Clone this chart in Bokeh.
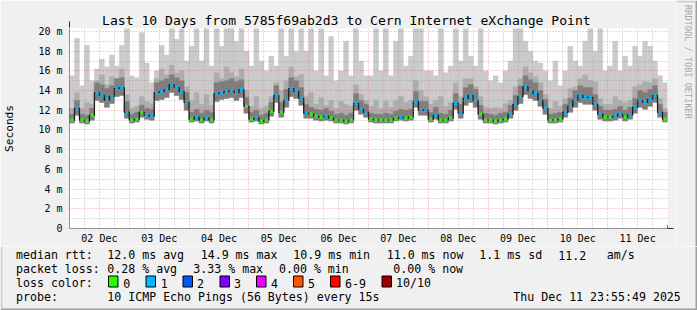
import math
from bokeh.plotting import figure
from bokeh.layouts import column, row
from bokeh.models import (Range1d, FixedTicker, Arrow, NormalHead, Grid, ColumnDataSource)
from bokeh.core.properties import value
from bokeh.embed import file_html
from bokeh.resources import INLINE

# ---------------- data (2-hour steps, 02 Dec 00:00 -> 12 Dec 00:00) ----------------
median = [
    11.0, 12.2, 11.0, 10.9, 11.5, 13.8, 13.5, 13.0, 13.4, 14.2, 14.3, 11.8,
    11.0, 11.1, 11.8, 11.5, 11.4, 13.8, 13.9, 14.1, 14.6, 14.3, 13.9, 12.8,
    11.1, 11.3, 11.0, 11.2, 11.0, 13.7, 13.8, 13.9, 14.0, 13.8, 14.1, 12.4,
    11.1, 11.2, 10.9, 11.0, 11.9, 13.5, 11.8, 13.0, 14.2, 13.9, 13.2, 11.7,
    11.6, 11.4, 11.3, 11.4, 11.2, 11.0, 11.0, 10.9, 11.0, 12.7, 12.1, 11.8,
    11.1, 11.0, 11.0, 11.0, 11.0, 11.2, 11.3, 11.2, 11.3, 12.9, 12.0, 12.0,
    11.1, 11.5, 11.0, 11.0, 11.2, 12.7, 11.7, 13.2, 13.5, 13.0, 11.6, 11.0,
    11.0, 10.9, 11.0, 11.1, 11.6, 12.6, 13.4, 14.4, 14.0, 13.7, 13.0, 12.2,
    11.0, 11.0, 11.1, 11.8, 12.4, 13.0, 13.5, 13.3, 13.3, 12.6, 11.6, 11.3,
    11.3, 11.4, 11.6, 11.3, 11.5, 12.3, 13.0, 12.8, 13.1, 13.5, 11.8, 11.1,
]
loss = [
    0, 1, 0, 0, 0, 1, 1, 1, 1, 1, 1, 1,
    0, 0, 0, 1, 1, 1, 1, 1, 1, 1, 1, 1,
    0, 1, 0, 1, 0, 1, 1, 1, 1, 1, 1, 0,
    0, 1, 0, 0, 0, 1, 0, 1, 1, 1, 1, 1,
    0, 0, 0, 1, 0, 0, 0, 0, 0, 1, 1, 1,
    0, 0, 0, 0, 0, 0, 1, 0, 0, 1, 1, 1,
    0, 1, 0, 0, 0, 1, 1, 1, 1, 1, 0, 0,
    0, 0, 0, 0, 1, 1, 1, 1, 1, 1, 1, 1,
    0, 0, 0, 1, 1, 1, 1, 1, 1, 1, 1, 0,
    0, 1, 1, 0, 1, 1, 1, 1, 1, 1, 1, 0,
]
ping_min = [
    10.7, 11.5, 10.7, 10.6, 11.0, 13.0, 12.8, 12.3, 12.7, 13.4, 13.5, 11.2,
    10.7, 10.8, 11.3, 11.1, 11.0, 13.0, 13.1, 13.3, 13.8, 13.5, 13.1, 12.0,
    10.8, 10.9, 10.7, 10.9, 10.7, 12.9, 13.1, 13.2, 13.3, 13.0, 13.3, 11.7,
    10.8, 10.9, 10.6, 10.7, 11.4, 12.8, 11.3, 12.3, 13.4, 13.2, 12.5, 11.2,
    11.2, 11.0, 10.9, 11.0, 10.9, 10.7, 10.7, 10.6, 10.7, 12.0, 11.6, 11.3,
    10.8, 10.7, 10.7, 10.7, 10.7, 10.9, 11.0, 10.9, 11.0, 12.3, 11.5, 11.5,
    10.8, 11.1, 10.7, 10.7, 10.9, 12.1, 11.2, 12.5, 12.8, 12.3, 11.1, 10.7,
    10.7, 10.6, 10.7, 10.8, 11.2, 12.0, 12.7, 13.6, 13.2, 13.0, 12.4, 11.6,
    10.7, 10.7, 10.8, 11.3, 11.8, 12.3, 12.8, 12.6, 12.6, 12.0, 11.1, 10.9,
    10.9, 11.0, 11.2, 10.9, 11.1, 11.7, 12.3, 12.1, 12.4, 12.8, 11.3, 10.8,
]
ping_p70 = [
    11.6, 13.0, 11.6, 11.5, 12.2, 14.8, 14.6, 14.2, 14.5, 15.2, 15.3, 12.9,
    11.6, 11.8, 12.5, 12.2, 12.1, 14.8, 15.0, 15.2, 15.6, 15.3, 15.0, 13.8,
    11.8, 12.1, 11.7, 12.0, 11.8, 14.8, 14.9, 15.0, 15.2, 14.9, 15.1, 13.3,
    11.8, 12.0, 11.5, 11.7, 12.8, 14.5, 12.8, 14.1, 15.3, 15.0, 14.3, 12.6,
    12.3, 12.1, 12.0, 12.2, 11.9, 11.6, 11.7, 11.5, 11.7, 13.7, 13.0, 12.6,
    11.7, 11.6, 11.6, 11.7, 11.6, 11.9, 12.1, 12.0, 12.1, 13.9, 12.9, 12.9,
    11.8, 12.3, 11.7, 11.6, 12.0, 13.7, 12.6, 14.3, 14.6, 14.1, 12.5, 11.7,
    11.6, 11.5, 11.7, 11.8, 12.5, 13.5, 14.5, 15.5, 15.1, 14.8, 14.0, 13.1,
    11.6, 11.7, 11.8, 12.6, 13.2, 14.0, 14.5, 14.3, 14.3, 13.6, 12.4, 12.0,
    12.0, 12.1, 12.4, 12.0, 12.3, 13.2, 14.0, 13.8, 14.1, 14.5, 12.6, 11.8,
]
ping_p90 = [
    12.2, 13.8, 12.2, 12.8, 12.6, 15.0, 15.6, 14.6, 15.4, 15.2, 16.2, 13.6,
    12.2, 12.4, 13.4, 12.9, 12.7, 15.2, 16.2, 15.6, 16.6, 15.8, 16.0, 14.4,
    13.0, 13.8, 12.6, 13.6, 12.5, 15.8, 15.2, 16.4, 15.8, 15.4, 16.2, 14.0,
    12.4, 13.4, 12.2, 12.4, 13.4, 14.8, 14.0, 15.0, 16.4, 15.4, 15.6, 13.4,
    13.8, 12.6, 13.3, 12.5, 13.0, 12.2, 12.9, 12.6, 12.4, 14.6, 13.6, 13.0,
    12.4, 13.0, 12.2, 12.9, 12.3, 13.0, 13.4, 12.8, 13.0, 15.0, 14.0, 13.4,
    12.6, 13.0, 13.4, 12.4, 12.8, 14.8, 13.4, 15.2, 15.2, 14.4, 13.4, 12.3,
    12.2, 12.3, 12.2, 12.7, 13.0, 14.4, 15.2, 16.4, 15.8, 15.4, 14.8, 13.6,
    12.2, 12.9, 12.4, 13.2, 14.2, 14.4, 15.2, 15.6, 15.0, 14.9, 13.2, 12.6,
    12.6, 13.4, 13.0, 12.8, 13.0, 14.4, 14.6, 14.9, 14.8, 15.2, 13.2, 12.2,
]
ping_max = [
    15.5, 19.3, 14.5, 18.6, 15.0, 16.2, 17.2, 16.4, 17.6, 16.5, 18.6, 20.5,
    15.5, 15.3, 19.9, 16.8, 14.8, 16.0, 18.6, 17.6, 20.5, 19.2, 20.5, 17.0,
    18.5, 20.5, 17.0, 20.5, 16.5, 20.5, 18.5, 20.5, 20.5, 19.0, 20.5, 18.0,
    16.5, 20.5, 17.0, 16.0, 17.5, 16.5, 20.5, 17.5, 20.5, 18.0, 20.5, 18.0,
    20.5, 16.0, 20.5, 15.5, 19.5, 15.0, 16.0, 19.0, 15.5, 20.5, 17.0, 15.5,
    15.5, 20.5, 16.0, 20.5, 15.5, 19.0, 20.5, 16.5, 17.5, 20.5, 20.5, 16.0,
    16.0, 15.5, 20.5, 15.8, 16.5, 20.5, 17.0, 20.5, 17.5, 16.5, 20.5, 16.0,
    15.0, 15.5, 14.8, 16.0, 17.0, 20.5, 20.5, 19.0, 18.0, 17.0, 16.8, 16.0,
    15.0, 17.0, 14.5, 16.0, 18.5, 17.0, 16.5, 19.0, 20.5, 18.0, 20.5, 16.0,
    16.5, 19.0, 16.0, 17.5, 16.5, 18.5, 17.5, 19.0, 18.5, 17.0, 15.5, 14.8,
]
STEP_H = 2
day_labels = ["02 Dec", "03 Dec", "04 Dec", "05 Dec", "06 Dec",
              "07 Dec", "08 Dec", "09 Dec", "10 Dec", "11 Dec"]
y_ticks = [0, 2, 4, 6, 8, 10, 12, 14, 16, 18, 20]
y_tick_labels = ["0", "2 m", "4 m", "6 m", "8 m", "10 m", "12 m", "14 m", "16 m", "18 m", "20 m"]

title = "Last 10 Days from 5785f69ab2d3 to Cern Internet eXchange Point"
watermark = "RRDTOOL / TOBI OETIKER"
row_heads = ["median rtt:", "packet loss:", "loss color:", "probe:"]
rtt_stats = ["12.0 ms avg", "14.9 ms max", "10.9 ms min", "11.0 ms now", "1.1 ms sd", "11.2", "am/s"]
loss_stats = ["0.28 % avg", "3.33 % max", "0.00 % min", "0.00 % now"]
loss_names = ["0", "1", "2", "3", "4", "5", "6-9", "10/10"]
loss_colors = ["#26ff00", "#00b8ff", "#0059ff", "#7e00ff", "#ee00ff", "#ff5500", "#ff0000", "#a10000"]
probe_text = "10 ICMP Echo Pings (56 Bytes) every 15s"
stamp_text = "Thu Dec 11 23:55:49 2025"

# ---------------- styling / layout constants ----------------
FONT = "DejaVu Sans Mono"
BG = "#f0f0f0"
SHADE_A = "#cfcfcf"
SHADE_B = "#9e9e9e"
Y_TOP = 20.3
N = len(median)
X_END = N * STEP_H

t_left = [i * STEP_H for i in range(N)]
t_right = [i * STEP_H + STEP_H for i in range(N)]
t_mid = [i * STEP_H + STEP_H / 2 for i in range(N)]

src = ColumnDataSource(dict(
    left=t_left, right=t_right, mid=t_mid, med=median, lo=ping_min,
    p70=ping_p70, p90=ping_p90, hi=ping_max,
    col=[loss_colors[l] for l in loss],
))

# ---------------- main chart ----------------
p = figure(width=676, height=246, output_backend="svg", toolbar_location=None,
           x_range=Range1d(0, X_END), y_range=Range1d(0, Y_TOP),
           min_border_left=67, min_border_right=9, min_border_top=28, min_border_bottom=18,
           background_fill_color="white", border_fill_color=BG, outline_line_color=None)
p.frame_align = False
p.title.text = title
p.title.text_font = FONT
p.title.text_font_size = "13.1px"
p.title.text_font_style = "normal"
p.title.text_color = "black"
p.title.align = "left"
p.title.offset = 32.5
p.title.standoff = 2

# smoke
p.quad(left="left", right="right", bottom="lo", top="hi", source=src,
       fill_color="#cacaca", line_color="#cacaca", line_width=0.4)
p.quad(left="left", right="right", bottom="med", top="p90", source=src,
       fill_color="#adadad", line_color="#adadad", line_width=0.4)
p.quad(left="left", right="right", bottom="lo", top="p70", source=src,
       fill_color="#7e7e7e", line_color="#7e7e7e", line_width=0.4)
# median
p.step(x="mid", y="med", source=src, mode="center", line_color="#1a1a1a", line_width=1.3)
p.scatter(x="mid", y="med", source=src, marker="square", size=3.2,
          fill_color="col", line_color=None)

# axes
p.yaxis.ticker = FixedTicker(ticks=y_ticks, minor_ticks=[v + 1 for v in y_ticks[:-1]])
p.yaxis.major_label_overrides = {v: s for v, s in zip(y_ticks, y_tick_labels)}
p.xaxis.ticker = FixedTicker(ticks=[24 * k + 12 for k in range(len(day_labels))])
p.xaxis.major_label_overrides = {24 * k + 12: s for k, s in enumerate(day_labels)}
for ax in (p.xaxis[0], p.yaxis[0]):
    ax.axis_line_color = None
    ax.major_tick_line_color = None
    ax.minor_tick_line_color = None
    ax.major_tick_out = 0
    ax.major_tick_in = 0
    ax.minor_tick_out = 0
    ax.minor_tick_in = 0
    ax.major_label_text_font = FONT
    ax.major_label_text_font_size = "10px"
    ax.major_label_text_color = "black"
p.yaxis.major_label_standoff = 7
p.xaxis.major_label_standoff = 4
p.yaxis.axis_label = "Seconds"
p.yaxis.axis_label_text_font = FONT
p.yaxis.axis_label_text_font_size = "11.2px"
p.yaxis.axis_label_text_font_style = "normal"
p.yaxis.axis_label_text_color = "black"
p.yaxis.axis_label_standoff = 19

# grids (drawn over the smoke like rrdtool)
p.xgrid.visible = False
p.ygrid.grid_line_color = "#e04040"
p.ygrid.grid_line_alpha = 0.5
p.ygrid.grid_line_dash = "1 2"
p.ygrid.minor_grid_line_color = "#909090"
p.ygrid.minor_grid_line_alpha = 0.6
p.ygrid.minor_grid_line_dash = "1 2"
p.ygrid.level = "annotation"
p.add_layout(Grid(dimension=0, ticker=FixedTicker(ticks=[h for h in range(6, X_END, 6) if h % 24]),
                  grid_line_color="#909090", grid_line_alpha=0.6, grid_line_dash="1 2",
                  level="annotation"))
p.add_layout(Grid(dimension=0, ticker=FixedTicker(ticks=list(range(24, X_END, 24))),
                  grid_line_color="#e04040", grid_line_alpha=0.5, grid_line_dash="1 2",
                  level="annotation"))

# axis lines with arrow heads (extend a few px past the origin like rrdtool)
PX_H = X_END / 600.0
PX_V = Y_TOP / 200.0
p.add_layout(Arrow(x_start=0, y_start=-4 * PX_V, x_end=0, y_end=Y_TOP + 7 * PX_V,
                   line_color="#2a2a2a", line_width=1,
                   end=NormalHead(size=6, fill_color="#7f0000", line_color="#7f0000")))
p.add_layout(Arrow(x_start=-4 * PX_H, y_start=0, x_end=X_END + 6 * PX_H, y_end=0,
                   line_color="#2a2a2a", line_width=1,
                   end=NormalHead(size=6, fill_color="#7f0000", line_color="#7f0000")))

# ---------------- right strip: watermark (y measured from strip bottom) ----------------
w = figure(width=21, height=246, output_backend="svg", toolbar_location=None,
           x_range=Range1d(676, 697), y_range=Range1d(0, 246),
           x_axis_location=None, y_axis_location=None,
           min_border=0, background_fill_color=BG, border_fill_color=BG,
           outline_line_color=None)
w.frame_align = False
w.grid.visible = False
w.text(x=[687.5], y=[246 - 61.5], text=[watermark], angle=-math.pi / 2,
       text_font=value(FONT), text_font_size=value("8.6px"), text_color="#a8a8a8",
       text_align="center", text_baseline="middle")
w.quad(left=[695], right=[697], bottom=[0], top=[246], fill_color=SHADE_B, line_color=None)
w.quad(left=[676], right=[695], bottom=[244], top=[246], fill_color=SHADE_A, line_color=None)

# ---------------- bottom strip: legend (y measured from image bottom) ----------------
q = figure(width=697, height=64, output_backend="svg", toolbar_location=None,
           x_range=Range1d(0, 697), y_range=Range1d(0, 64),
           x_axis_location=None, y_axis_location=None,
           min_border=0, background_fill_color=BG, border_fill_color=BG,
           outline_line_color=None)
q.frame_align = False
q.grid.visible = False


def qy(py):
    return 310 - py


row_y = [254.5, 268.5, 282.5, 296.5]
xs, ys, ts = [], [], []
for yy, s in zip(row_y, row_heads):
    xs.append(15.5); ys.append(qy(yy)); ts.append(s)
for x0, s in zip([106.8, 200.2, 292.8, 386.2, 478.8, 557.8, 606.2], rtt_stats):
    xs.append(x0); ys.append(qy(row_y[0])); ts.append(s)
for x0, s in zip([106.8, 192.8, 278.5, 392.8], loss_stats):
    xs.append(x0); ys.append(qy(row_y[1])); ts.append(s)
sw_x = [108, 145.5, 182.5, 219.5, 256, 293, 330, 381.5]
for x0, s in zip([122.8, 160.2, 196.5, 233.5, 270.5, 307.5, 344.5, 395.5], loss_names):
    xs.append(x0); ys.append(qy(row_y[2])); ts.append(s)
xs += [106.8, 512.8]; ys += [qy(row_y[3]), qy(row_y[3])]; ts += [probe_text, stamp_text]

q.text(x=xs, y=ys, text=ts, text_font=value(FONT), text_font_size=value("11.6px"),
       text_color="black", text_align="left", text_baseline="middle")
q.quad(left=sw_x, right=[v + 9.5 for v in sw_x], top=[qy(275.5)] * len(sw_x),
       bottom=[qy(286.5)] * len(sw_x), fill_color=loss_colors, line_color="black", line_width=1)
# frame shading
q.quad(left=[0], right=[697], bottom=[0], top=[2], fill_color=SHADE_B, line_color=None)
q.quad(left=[695], right=[697], bottom=[0], top=[64], fill_color=SHADE_B, line_color=None)
q.quad(left=[0], right=[2], bottom=[2], top=[64], fill_color=SHADE_A, line_color=None)

layout = column(row(p, w), q)
open("out.html", "w").write(file_html(layout, INLINE))
